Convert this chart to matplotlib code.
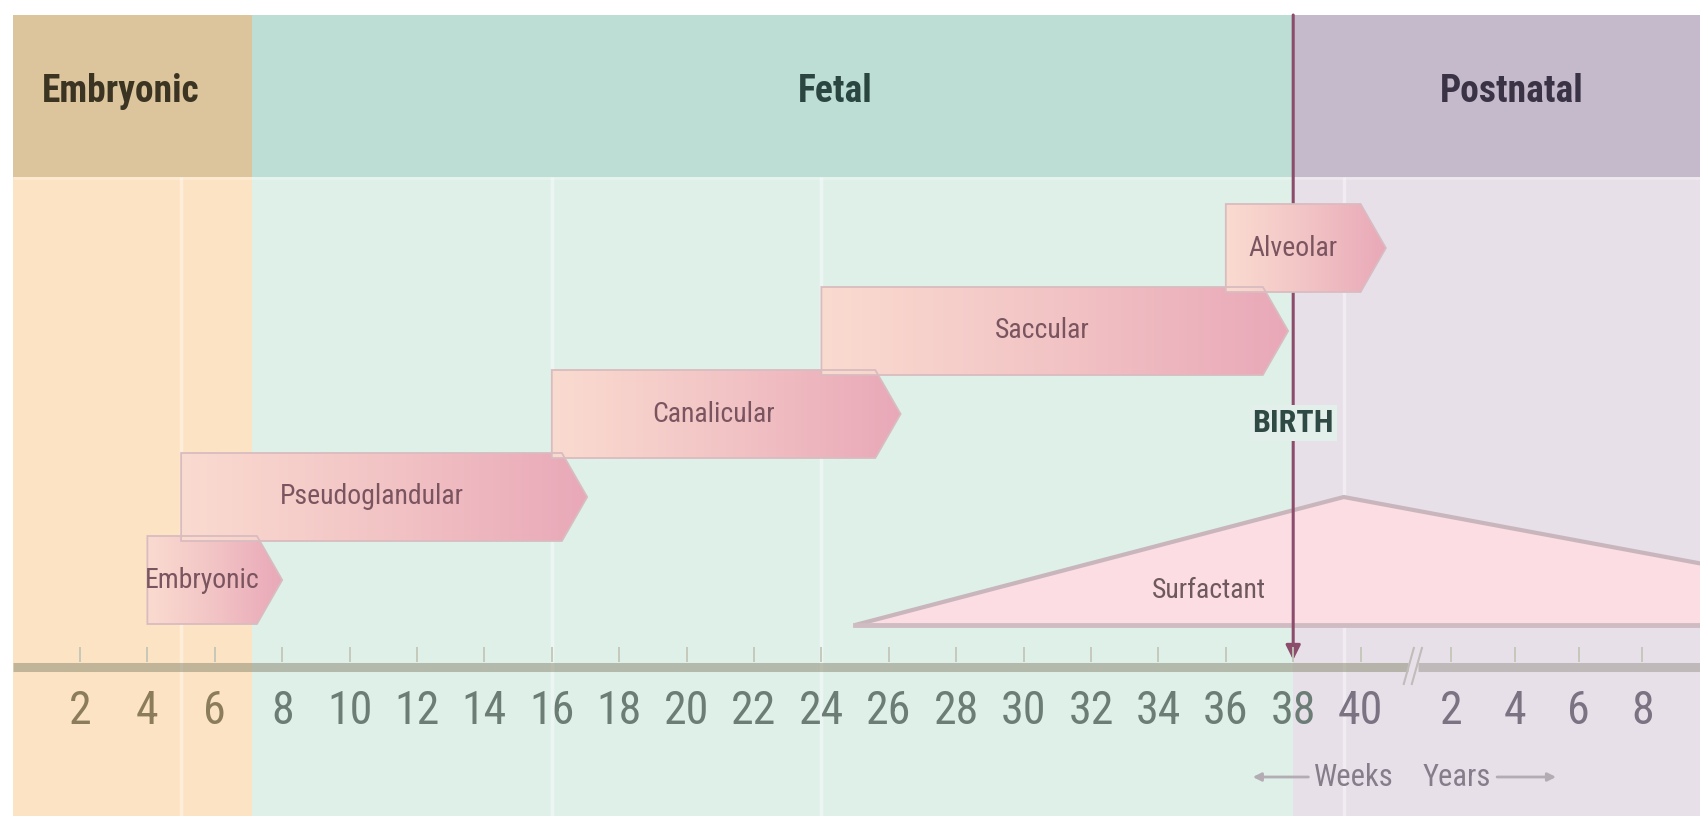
import matplotlib
matplotlib.use("Agg")
import matplotlib.pyplot as plt
import matplotlib.font_manager as fm
import numpy as np
from matplotlib.patches import Polygon, Rectangle
from matplotlib.colors import LinearSegmentedColormap

# periods, in weeks of gestation (birth at week 38)
periods = ["Embryonic", "Fetal", "Postnatal"]
period_start = [0, 7.1, 38]
period_end = [7.1, 38, 50.1]

# stages of lung development
stages = ["Embryonic", "Pseudoglandular", "Canalicular", "Saccular", "Alveolar"]
stage_start = [4, 5, 16, 24, 36]
stage_end = [7.25, 16.3, 25.6, 37.1, 40]

birth_week = 38

# surfactant production, relative level
surf_weeks = [25, 39.5, 50.1]
surf_level = [0, 1.0, 0.48]

week_ticks = list(range(2, 41, 2))
year_ticks = [2, 4, 6, 8]


def pick_font():
    for name in ["Liberation Sans Narrow", "Roboto Condensed", "Open Sans Condensed"]:
        try:
            fm.findfont(fm.FontProperties(family=name), fallback_to_default=False)
            return name, 1.0
        except ValueError:
            pass
    return "DejaVu Sans", 0.72


FONT, fscale = pick_font()
plt.rcParams["font.family"] = [FONT, "DejaVu Sans"]

# layout (pixel rows, weeks across)
PX_WEEK = 33.7
X_WEEK2 = 80
xlo = 2 - X_WEEK2 / PX_WEEK
xhi = 2 + (1700 - X_WEEK2) / PX_WEEK


def year_x(y):
    return 40.8 + 0.945 * y


fig = plt.figure(figsize=(17, 8.16), dpi=100)
ax = fig.add_axes([0, 0, 1, 1])

header_top, header_bot, bottom = 15, 177, 816
header_cols = ["#dcc59c", "#bcded4", "#c5b9cc"]
body_cols = ["#fce3c3", "#dff0e9", "#e7e0e9"]
header_txt = ["#3b3423", "#2b4540", "#3a3345"]
header_x = [3.2, 24.4, 44.5]
tick_cols = ["#8b7d5c", "#6c7d76", "#7b7282"]

for i in range(len(periods)):
    w = period_end[i] - period_start[i]
    ax.add_patch(Rectangle((period_start[i], header_top), w, header_bot - header_top,
                           fc=header_cols[i], ec="none", zorder=0))
    ax.add_patch(Rectangle((period_start[i], header_bot), w, bottom - header_bot,
                           fc=body_cols[i], ec="none", zorder=0))
    ax.text(header_x[i], 92, periods[i], ha="center", va="center", fontsize=27 * fscale,
            fontweight="bold", color=header_txt[i], zorder=6)

ax.hlines(header_bot + 1, 0, xhi, color="white", alpha=0.25, lw=2, zorder=1)
# faint white guides
ax.vlines(stage_start[1:4] + [surf_weeks[1]], header_bot, bottom, color="white",
          alpha=0.4, lw=2.5, zorder=1)

# surfactant wedge
base_y, surf_h = 625, 128
sy = [base_y - l * surf_h for l in surf_level]
pts = list(zip(surf_weeks, sy)) + [(surf_weeks[-1], base_y), (surf_weeks[0], base_y)]
ax.add_patch(Polygon(pts, closed=True, fc="#fbdde3", ec="none", zorder=2))
ax.plot(surf_weeks, sy, color="#c9b6bc", lw=3, zorder=2.2, solid_capstyle="butt")
ax.plot([surf_weeks[0], surf_weeks[-1]], [base_y, base_y], color="#cfbcc3", lw=3.5, zorder=2.2)
ax.text(35.5, 591, "Surfactant", ha="center", va="center", fontsize=20 * fscale,
        color="#6e5a5e", zorder=5)

# birth line
ax.annotate("", xy=(birth_week, 660), xytext=(birth_week, header_top),
            arrowprops=dict(arrowstyle="-|>", color="#8b4d6b", lw=2.2, mutation_scale=22,
                            shrinkA=0, shrinkB=0), zorder=2.5)
ax.text(birth_week, 423, "BIRTH", ha="center", va="center", fontsize=23 * fscale,
        fontweight="bold", color="#2f4a44", zorder=6,
        bbox=dict(fc="#e3efea", ec="none", pad=2))

# stage bars
bar_cmap = LinearSegmentedColormap.from_list("bar", ["#fadbd0", "#f2c4c5", "#e9a8b8"])
row_c = [580, 497, 414, 331, 248]
bar_h = 88
tip = 0.75
grad = np.linspace(0, 1, 256).reshape(1, -1)
for i, name in enumerate(stages):
    s, e, c = stage_start[i], stage_end[i], row_c[i]
    top, bot = c - bar_h / 2, c + bar_h / 2
    poly = Polygon([(s, top), (e, top), (e + tip, c), (e, bot), (s, bot)], closed=True,
                   fc="none", ec="#d9bcc0", lw=1.3, zorder=4)
    ax.add_patch(poly)
    im = ax.imshow(grad, cmap=bar_cmap, extent=(s, e + tip, bot, top), aspect="auto",
                   interpolation="bicubic", zorder=3)
    im.set_clip_path(poly)
    ax.text((s + e) / 2, c, name, ha="center", va="center", fontsize=20 * fscale,
            color="#7a5560", zorder=5)

# time axis
axis_y = 667
brk = 41.55
ax.plot([0, brk - 0.15], [axis_y, axis_y], color="#8f8f78", alpha=0.55, lw=6.5,
        solid_capstyle="butt", zorder=3)
ax.plot([brk + 0.15, xhi], [axis_y, axis_y], color="#8f8a82", alpha=0.45, lw=6.5,
        solid_capstyle="butt", zorder=3)
for dx in (-0.12, 0.12):
    ax.plot([brk + dx - 0.15, brk + dx + 0.15], [684, 648], color="#c2bbb9", lw=1.5, zorder=3)

tick_pos = week_ticks + [year_x(y) for y in year_ticks]
tick_lab = [str(w) for w in week_ticks] + [str(y) for y in year_ticks]
ax.vlines(tick_pos, 647, 662, color="#c3c6b8", lw=1.3, zorder=3)
for p, lab in zip(tick_pos, tick_lab):
    if p < period_end[0]:
        col = tick_cols[0]
    elif p < birth_week + 0.5:
        col = tick_cols[1]
    else:
        col = tick_cols[2]
    ax.text(p, 711, lab, ha="center", va="center", fontsize=33 * fscale, color=col, zorder=5)

# weeks / years legend
ax.text(39.8, 777, "Weeks", ha="center", va="center", fontsize=22 * fscale, color="#857d8a")
ax.text(42.86, 777, "Years", ha="center", va="center", fontsize=22 * fscale, color="#857d8a")
arrow_kw = dict(arrowstyle="-|>", color="#b3acb3", lw=2, mutation_scale=12, shrinkA=0, shrinkB=0)
ax.annotate("", xy=(36.8, 777), xytext=(38.45, 777), arrowprops=arrow_kw)
ax.annotate("", xy=(45.8, 777), xytext=(44.05, 777), arrowprops=arrow_kw)

ax.set_xlim(xlo, xhi)
ax.set_ylim(bottom, 0)
ax.axis("off")
fig.savefig("out.png", dpi=100, facecolor="white")
